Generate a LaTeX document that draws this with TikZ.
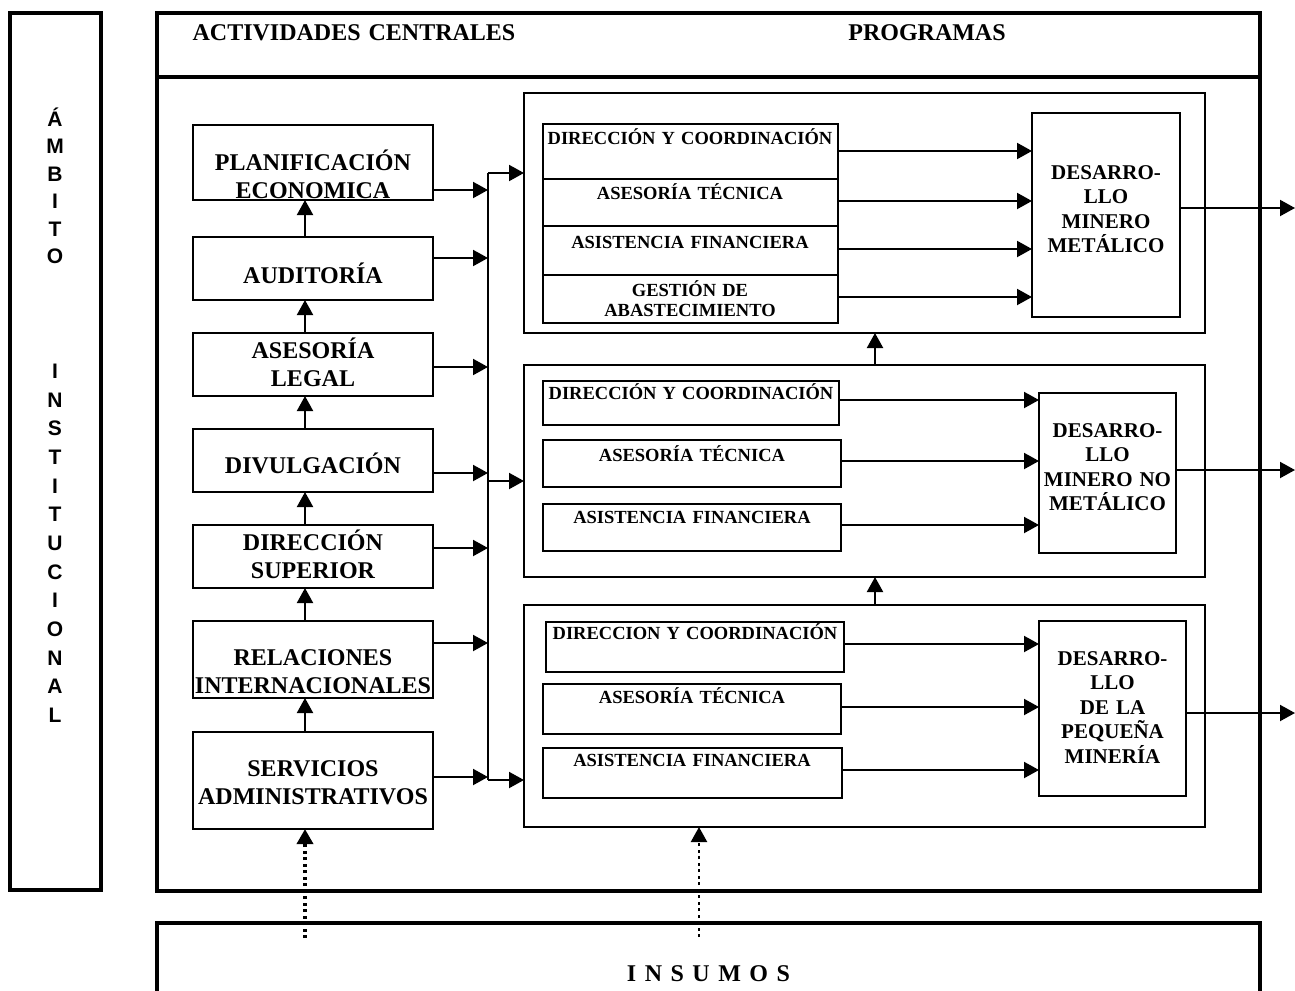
\documentclass[tikz,border=0pt]{standalone}
\usepackage{fontspec}
\setmainfont{Liberation Serif}
\newfontfamily\ambfont{Liberation Sans}
\usetikzlibrary{arrows.meta,fit}
\begin{document}
\begin{tikzpicture}[x=1pt,y=-1pt,
  heavy/.style={draw, line width=3.5pt, inner sep=0pt, outer sep=0pt},
  boxline/.style={draw, line width=2pt, inner sep=0pt, outer sep=0pt},
  lbl/.style={anchor=base, inner sep=0pt, align=center, text width=#1},
  lbl/.default=340pt,
  big/.style={font=\fontsize{24}{28}\selectfont\bfseries},
  small/.style={font=\fontsize{18.5}{20}\selectfont\bfseries},
  dev/.style={font=\fontsize{21}{24.5}\selectfont\bfseries},
  arr/.style={line width=2pt, -{Triangle[length=15pt,width=16pt]}},
  dotarrow/.style={line width=#1, dash pattern=on 3pt off 3.5pt, -{Triangle[length=15pt,width=16pt]}},
]
\useasboundingbox (0,0) rectangle (1295,990);
\clip (0,0) rectangle (1295,990);

% ---- side frame ----
\node[heavy, fit={(10,13) (101,890)}] (amb) {};
\node[lbl=60pt, font={\ambfont\fontsize{21}{27.4}\selectfont\bfseries}] (amb-a) at (55,126.5) {Á\\M\\B\\I\\T\\O};
\node[lbl=60pt, font={\ambfont\fontsize{21}{28.67}\selectfont\bfseries}] (amb-b) at (55,378.5) {I\\N\\S\\T\\I\\T\\U\\C\\I\\O\\N\\A\\L};

% ---- main frame ----
\node[heavy, fit={(157,13) (1260,77)}] (hdr) {};
\node[heavy, fit={(157,77) (1260,891)}] (body) {};
\node[lbl=360pt, big] (hdr-a) at (354,41) {ACTIVIDADES CENTRALES};
\node[lbl, big] (hdr-b) at (927,41) {PROGRAMAS};

% ---- central activities ----
\node[boxline, fit={(193,125) (433,200)}] (plan) {};
\node[boxline, fit={(193,237) (433,300)}] (aud) {};
\node[boxline, fit={(193,333) (433,396)}] (leg) {};
\node[boxline, fit={(193,429) (433,492)}] (div) {};
\node[boxline, fit={(193,525) (433,588)}] (dir) {};
\node[boxline, fit={(193,621) (433,698)}] (rel) {};
\node[boxline, fit={(193,732) (433,829)}] (serv) {};

\node[lbl, big] (plan-t) at (313,170) {PLANIFICACIÓN\\ECONOMICA};
\node[lbl, big] (aud-t) at (313,283) {AUDITORÍA};
\node[lbl, big] (leg-t) at (313,358) {ASESORÍA\\LEGAL};
\node[lbl, big] (div-t) at (313,473) {DIVULGACIÓN};
\node[lbl, big] (dir-t) at (313,550) {DIRECCIÓN\\SUPERIOR};
\node[lbl, big] (rel-t) at (313,665) {RELACIONES\\INTERNACIONALES};
\node[lbl, big] (serv-t) at (313,776) {SERVICIOS\\ADMINISTRATIVOS};

\coordinate (ax) at (305,0);
\draw[arr] (aud.north -| ax) -- (plan.south -| ax);
\draw[arr] (leg.north -| ax) -- (aud.south -| ax);
\draw[arr] (div.north -| ax) -- (leg.south -| ax);
\draw[arr] (dir.north -| ax) -- (div.south -| ax);
\draw[arr] (rel.north -| ax) -- (dir.south -| ax);
\draw[arr] (serv.north -| ax) -- (rel.south -| ax);

% ---- collector line ----
\coordinate (bus-top) at (488,173);
\coordinate (bus-mid) at (488,481);
\coordinate (bus-bot) at (488,780);
\draw[line width=2pt] (bus-top) -- (bus-bot);

\draw[arr] (plan.east |- 0,190) -- (bus-top |- 0,190);
\draw[arr] (aud.east |- 0,258) -- (bus-top |- 0,258);
\draw[arr] (leg.east |- 0,367) -- (bus-top |- 0,367);
\draw[arr] (div.east |- 0,473) -- (bus-top |- 0,473);
\draw[arr] (dir.east |- 0,548) -- (bus-top |- 0,548);
\draw[arr] (rel.east |- 0,643) -- (bus-top |- 0,643);
\draw[arr] (serv.east |- 0,777) -- (bus-top |- 0,777);

% ---- programmes ----
\node[boxline, fit={(524,93) (1205,333)}] (p1) {};
\node[boxline, fit={(524,365) (1205,577)}] (p2) {};
\node[boxline, fit={(524,605) (1205,827)}] (p3) {};

\draw[arr] (bus-top) -- (p1.west |- bus-top);
\draw[arr] (bus-mid) -- (p2.west |- bus-mid);
\draw[arr] (bus-bot) -- (p3.west |- bus-bot);

\coordinate (px) at (875,0);
\draw[arr] (p3.north -| px) -- (p2.south -| px);
\draw[arr] (p2.north -| px) -- (p1.south -| px);

% programme 1
\node[boxline, fit={(543,124) (838,179)}] (d1) {};
\node[boxline, fit={(543,179) (838,226)}] (a1) {};
\node[boxline, fit={(543,226) (838,275)}] (f1) {};
\node[boxline, fit={(543,275) (838,323)}] (g1) {};
\node[boxline, fit={(1032,113) (1180,317)}] (dev1) {};
\node[lbl, small] (d1-t) at (690,144) {DIRECCIÓN Y COORDINACIÓN};
\node[lbl, small] (a1-t) at (690,199) {ASESORÍA TÉCNICA};
\node[lbl, small] (f1-t) at (690,248) {ASISTENCIA FINANCIERA};
\node[lbl, small] (g1-t) at (690,296) {GESTIÓN DE\\ABASTECIMIENTO};
\node[lbl=160pt, dev] (dev1-t) at (1106,179) {DESARRO-\\LLO\\MINERO\\METÁLICO};
\draw[arr] (d1.east |- 0,151) -- (dev1.west |- 0,151);
\draw[arr] (a1.east |- 0,201) -- (dev1.west |- 0,201);
\draw[arr] (f1.east |- 0,249) -- (dev1.west |- 0,249);
\draw[arr] (g1.east |- 0,297) -- (dev1.west |- 0,297);

% programme 2
\node[boxline, fit={(543,381) (839,425)}] (d2) {};
\node[boxline, fit={(543,440) (841,487)}] (a2) {};
\node[boxline, fit={(543,504) (841,551)}] (f2) {};
\node[boxline, fit={(1039,393) (1176,553)}] (dev2) {};
\node[lbl, small] (d2-t) at (691,399) {DIRECCIÓN Y COORDINACIÓN};
\node[lbl, small] (a2-t) at (692,461) {ASESORÍA TÉCNICA};
\node[lbl, small] (f2-t) at (692,523) {ASISTENCIA FINANCIERA};
\node[lbl=160pt, dev] (dev2-t) at (1107.5,437) {DESARRO-\\LLO\\MINERO NO\\METÁLICO};
\draw[arr] (d2.east |- 0,400) -- (dev2.west |- 0,400);
\draw[arr] (a2.east |- 0,461) -- (dev2.west |- 0,461);
\draw[arr] (f2.east |- 0,525) -- (dev2.west |- 0,525);

% programme 3
\node[boxline, fit={(546,622) (844,672)}] (d3) {};
\node[boxline, fit={(543,684) (841,734)}] (a3) {};
\node[boxline, fit={(543,748) (842,798)}] (f3) {};
\node[boxline, fit={(1039,621) (1186,796)}] (dev3) {};
\node[lbl, small] (d3-t) at (695,639) {DIRECCION Y COORDINACIÓN};
\node[lbl, small] (a3-t) at (692,703) {ASESORÍA TÉCNICA};
\node[lbl, small] (f3-t) at (692,766) {ASISTENCIA FINANCIERA};
\node[lbl=160pt, dev] (dev3-t) at (1112.5,665) {DESARRO-\\LLO\\DE LA\\PEQUEÑA\\MINERÍA};
\draw[arr] (d3.east |- 0,644) -- (dev3.west |- 0,644);
\draw[arr] (a3.east |- 0,707) -- (dev3.west |- 0,707);
\draw[arr] (f3.east |- 0,770) -- (dev3.west |- 0,770);

% outputs
\coordinate (out1) at (1295,208);
\coordinate (out2) at (1295,470);
\coordinate (out3) at (1295,713);
\draw[arr] (dev1.east |- out1) -- (out1);
\draw[arr] (dev2.east |- out2) -- (out2);
\draw[arr] (dev3.east |- out3) -- (out3);

% ---- inputs ----
\node[heavy, fit={(157,923) (1260,1060)}] (insumos) {};
\node[lbl, big] (insumos-t) at (708.5,981) {\spaceskip=8.5pt I N S U M O S};
\coordinate (in-a) at (305,938);
\coordinate (in-b) at (699,937);
\draw[dotarrow=3.5pt] (in-a) -- (serv.south -| in-a);
\draw[dotarrow=2.2pt] (in-b) -- (p3.south -| in-b);
\end{tikzpicture}
\end{document}
